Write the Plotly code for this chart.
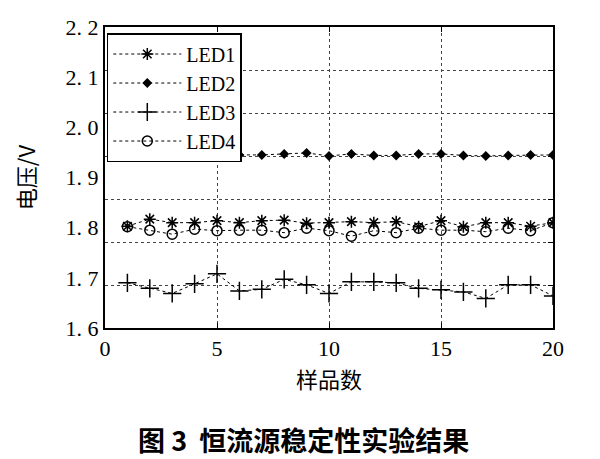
import plotly.graph_objects as go

samples = list(range(1, 21))
led1 = [1.803, 1.817, 1.810, 1.810, 1.814, 1.810, 1.814, 1.815, 1.809, 1.810,
        1.812, 1.810, 1.812, 1.802, 1.814, 1.802, 1.810, 1.810, 1.803, 1.810]
led2 = [1.943, 1.949, 1.944, 1.945, 1.948, 1.945, 1.945, 1.947, 1.949, 1.943,
        1.947, 1.944, 1.944, 1.947, 1.947, 1.944, 1.943, 1.944, 1.945, 1.945]
led3 = [1.690, 1.679, 1.669, 1.688, 1.708, 1.674, 1.677, 1.697, 1.686, 1.669,
        1.692, 1.692, 1.690, 1.679, 1.676, 1.672, 1.659, 1.686, 1.686, 1.664]
led4 = [1.802, 1.795, 1.787, 1.797, 1.794, 1.795, 1.795, 1.790, 1.799, 1.794,
        1.783, 1.794, 1.790, 1.799, 1.795, 1.795, 1.792, 1.799, 1.794, 1.810]

y_ticks = [1.6, 1.7, 1.8, 1.9, 2.0, 2.1, 2.2]
y_labels = ["1. 6", "1. 7", "1. 8", "1. 9", "2. 0", "2. 1", "2. 2"]
x_ticks = [0, 5, 10, 15, 20]

serif = "Liberation Serif"
cjk = "Noto Sans CJK SC"

series = [
    ("LED1", led1, "asterisk-open", 10),
    ("LED2", led2, "diamond", 6),
    ("LED3", led3, "cross-thin-open", 13),
    ("LED4", led4, "circle-open", 10),
]

fig = go.Figure()
for name, vals, sym, size in series:
    fig.add_trace(go.Scatter(
        x=samples, y=vals, name=name, mode="lines+markers",
        line=dict(color="black", width=1, dash="dot"),
        marker=dict(symbol=sym, size=size, color="black",
                    line=dict(color="black", width=1.5)),
    ))

# grid of the original sits on its own 7-step scale
fig.add_trace(go.Scatter(x=[0, 20], y=[0, 7], yaxis="y2", mode="none",
                         showlegend=False, hoverinfo="skip"))

# page body adds 8px, so the figure is a bit smaller than the window
fig.update_layout(
    width=592, height=451,
    margin=dict(l=97, r=47, t=19, b=131),
    paper_bgcolor="white", plot_bgcolor="white",
    font=dict(family=serif, size=22, color="black"),
    xaxis=dict(range=[0, 20], tickvals=x_ticks, showgrid=True,
               gridcolor="#444", griddash="dot", gridwidth=1,
               zeroline=False, showline=True, linecolor="black",
               linewidth=2, mirror="ticks", ticks="inside", ticklen=5,
               tickcolor="black", automargin=False,
               title=dict(text="样品数", font=dict(family=cjk, size=22),
                          standoff=12)),
    yaxis=dict(range=[1.6, 2.2], tickvals=y_ticks, ticktext=y_labels,
               showgrid=False, zeroline=False, showline=True,
               linecolor="black", linewidth=2, mirror=True, ticks="",
               automargin=False,
               title=dict(text="电压/V", font=dict(family=cjk, size=22),
                          standoff=24)),
    yaxis2=dict(range=[0, 7], dtick=1, overlaying="y", showticklabels=False,
                showgrid=True, gridcolor="#444", griddash="dot",
                gridwidth=1, zeroline=False, ticks="inside", ticklen=5,
                tickcolor="black", side="right", showline=False,
                automargin=False),
    legend=dict(x=0.004, y=0.98, xanchor="left", yanchor="top",
                bgcolor="white", bordercolor="black", borderwidth=1.5,
                font=dict(family=serif, size=20), tracegroupgap=0,
                itemwidth=68),
    annotations=[dict(text="<b>图 3  恒流源稳定性实验结果</b>",
                      xref="paper", yref="paper", x=0.443, y=-0.37,
                      xanchor="center", yanchor="middle", showarrow=False,
                      font=dict(family=cjk, size=27))],
)

fig.write_html("out.html")
